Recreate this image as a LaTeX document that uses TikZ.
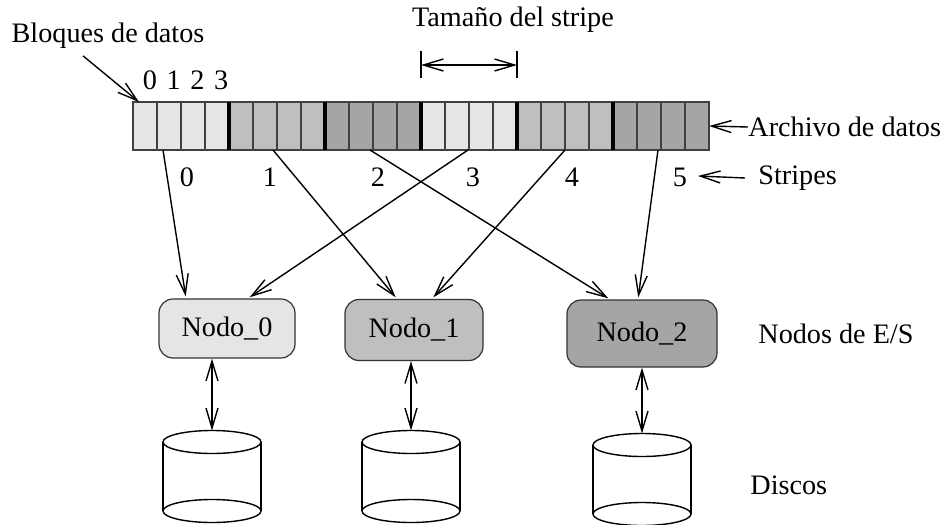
\documentclass[tikz,border=0pt]{standalone}
\usepackage{fontspec}
\setmainfont{Liberation Serif}
\usetikzlibrary{arrows.meta,positioning}
\definecolor{tono0}{HTML}{E5E5E5}
\definecolor{tono1}{HTML}{BFBFBF}
\definecolor{tono2}{HTML}{A5A5A5}

\begin{document}
\begin{tikzpicture}[
    x=0.5pt, y=-0.5pt,
    every node/.style={font=\fontsize{14.1}{17}\selectfont},
    celda/.style={rectangle, draw=black!75, line width=1pt, minimum width=12pt, minimum height=24pt, inner sep=0pt, outer sep=0pt},
    stripe/.style={rectangle, minimum width=48pt, minimum height=24pt, inner sep=0pt, outer sep=0pt},
    nodo/.style={rectangle, rounded corners=7pt, draw=black!80, line width=0.6pt, inner sep=0pt},
    etiq/.style={anchor=west, inner sep=0pt},
    flecha/.style={-{Straight Barb[length=10pt,width=6pt]}, line width=0.7pt},
    dflecha/.style={{Straight Barb[length=10pt,width=6pt]}-{Straight Barb[length=10pt,width=6pt]}, line width=0.7pt},
    separa/.style={line width=2pt},
    disco/.style={line width=0.7pt}
]
    \useasboundingbox (0,0) rectangle (944,525);

    % archivo de datos: 6 stripes de 4 bloques
    \foreach \i in {0,...,5}
        \node[stripe] (s\i) at (181+96*\i,126) {};
    \foreach \j in {0,...,23} {
        \pgfmathtruncatemacro\k{mod(int(\j/4),3)}
        \node[celda, fill=tono\k] (c\j) at (145+24*\j,126) {};
    }
    \foreach \i in {1,...,5}
        \draw[separa] (s\i.north west) -- (s\i.south west);

    % etiquetas
    \node (bloques) at (108,36) {Bloques de datos};
    \foreach \i in {0,...,3}
        \node (b\i) at (150+23.7*\i,80) {\i};
    \node (tamano) at (513,20) {Tamaño del stripe};
    \node[etiq] (archivo) at (748,127) {Archivo de datos};
    \node[etiq] (stripes) at (758,178) {Stripes};
    \foreach \i/\x in {0/187,1/270,2/378,3/473,4/572,5/680}
        \node (n\i) at (\x,177) {\i};

    \draw[flecha] ([xshift=-12.5pt]bloques.south) -- ([xshift=3pt]c0.north west);
    \coordinate (t0) at (421,65);
    \coordinate (t1) at (517,65);
    \draw[dflecha] (t0) -- (t1);
    \draw[line width=0.7pt] (421,51) -- (421,78) (517,51) -- (517,78);
    \draw[flecha] (archivo.west) -- (c23.east);
    \coordinate (sfin) at (698,176);
    \draw[flecha] ([xshift=-6.5pt]stripes.west) -- (sfin);

    % nodos de E/S
    \node[nodo, fill=tono0, minimum width=68pt, minimum height=29.5pt] (nodo0) at (227,328.5) {Nodo\_0};
    \node[nodo, fill=tono1, minimum width=69pt, minimum height=30.5pt] (nodo1) at (414,330) {Nodo\_1};
    \node[nodo, fill=tono2, minimum width=75pt, minimum height=33.5pt] (nodo2) at (642,333.5) {Nodo\_2};
    \node[etiq] (nodosES) at (758,334) {Nodos de E/S};

    % stripes -> nodos
    \foreach \s/\dx/\n/\ex in {0/-9/0/-20.5, 1/-2/1/-8.5, 2/-1.5/2/-16, 3/-0.5/0/10.5, 4/0/1/9, 5/-1.5/2/-2}
        \draw[flecha, shorten >=1pt] ([xshift=\dx pt]s\s.south) -- ([xshift=\ex pt]nodo\n.north);

    % discos
    \foreach \i/\x/\y in {0/212/442, 1/411/442, 2/642/445} {
        \coordinate (disco\i) at (\x,\y-11.5);
        \draw[disco] (\x,\y) ellipse [x radius=49, y radius=11.5];
        \draw[disco] (\x-49,\y) -- (\x-49,\y+69) (\x+49,\y) -- (\x+49,\y+69);
        \draw[disco] (\x,\y+69) ellipse [x radius=49, y radius=11.5];
        \draw[dflecha] (nodo\i.south -| disco\i) -- (disco\i);
    }
    \node[etiq] (discos) at (750,485) {Discos};
\end{tikzpicture}
\end{document}
